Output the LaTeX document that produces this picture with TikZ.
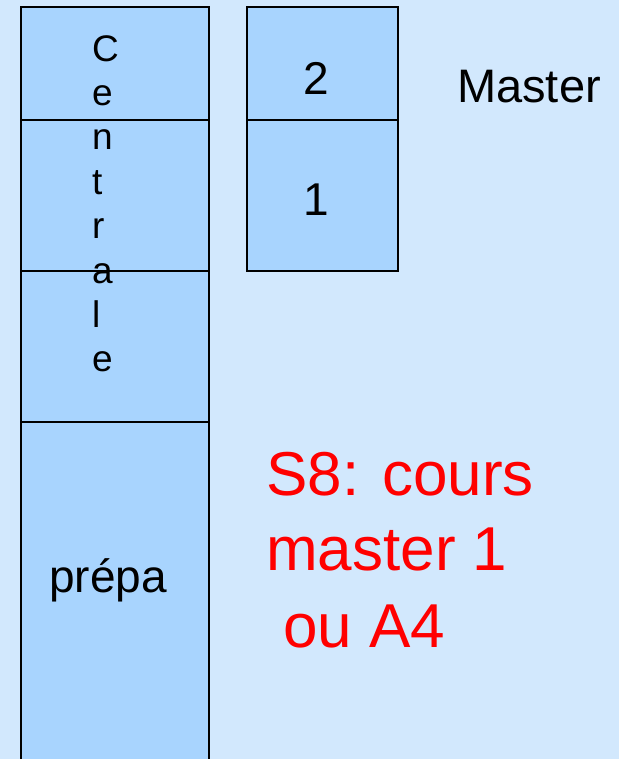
\documentclass[tikz,border=0pt]{standalone}
\usepackage{fontspec}
\setmainfont{Liberation Sans}
\definecolor{bgblue}{HTML}{D2E8FD}
\definecolor{boxblue}{HTML}{A8D4FE}
\definecolor{redtxt}{HTML}{FF0000}
\begin{document}
\begin{tikzpicture}[x=1pt,y=-1pt,
  cell/.style={draw=black,line width=2pt,fill=boxblue},
  lab/.style={anchor=base,inner sep=0pt,font=\fontsize{46}{50}\selectfont},
  redlab/.style={anchor=base west,inner sep=0pt,text=redtxt,font=\fontsize{62}{76}\selectfont}]
\fill[bgblue] (0,0) rectangle (619,759);
\useasboundingbox (0,0) rectangle (619,759);
\begin{scope}
\clip (0,0) rectangle (619,759);
\path[cell] (21,7) rectangle (209,120) coordinate (c1);
\path[cell] (21,120) rectangle (209,271) coordinate (c2);
\path[cell] (21,271) rectangle (209,422) coordinate (c3);
\path[cell] (21,422) rectangle (209,770) coordinate (c4);
\path[cell] (247,7) rectangle (398,120) coordinate (m2);
\path[cell] (247,120) rectangle (398,271) coordinate (m1);
\end{scope}
\node[anchor=north west,inner sep=0pt,align=left,font=\fontsize{37}{44.4}\selectfont] (centrale) at (92,35) {C\\e\\n\\t\\r\\a\\l\\e};
\node[lab] (two) at (316,95) {2};
\node[lab] (one) at (316,215) {1};
\node[lab,font=\fontsize{47}{50}\selectfont] (master) at (529,103) {Master};
\node[lab] (prepa) at (108,592) {prépa};
\node[redlab] (s8) at (266,495) {S8: cours};
\node[redlab] (m1txt) at (266,570) {master 1};
\node[redlab] (ou) at (266,647) {\ ou A4};
\end{tikzpicture}
\end{document}
